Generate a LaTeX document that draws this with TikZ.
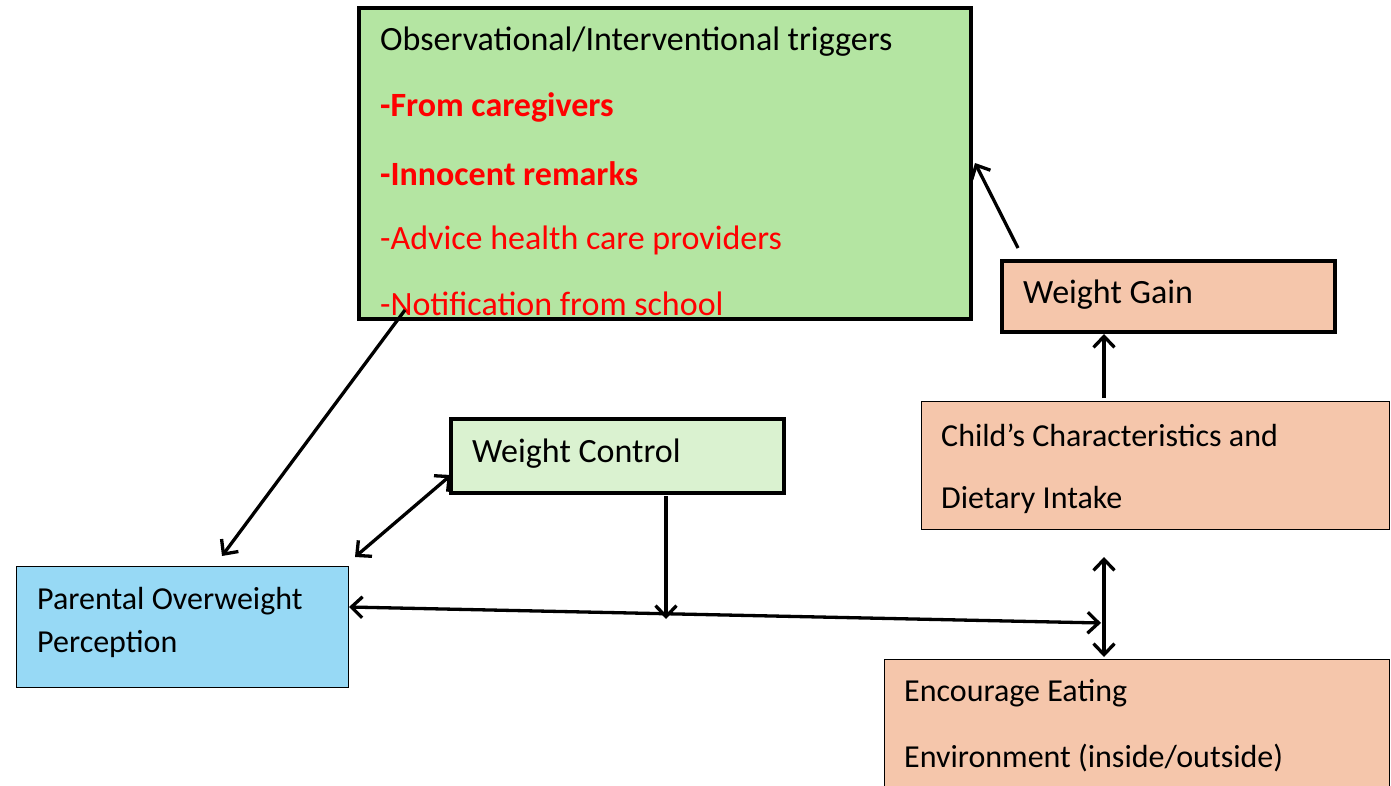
\documentclass[tikz,border=0pt]{standalone}
\usepackage{fontspec}
\setmainfont{Carlito}
\usetikzlibrary{arrows.meta}
\definecolor{gtrig}{HTML}{B4E5A2}
\definecolor{gctrl}{HTML}{DAF2D0}
\definecolor{peach}{HTML}{F5C6AB}
\definecolor{sky}{HTML}{97D9F5}
\definecolor{red1}{HTML}{FF0000}
\tikzset{
  thickbox/.style={draw=black, line width=3.2pt, inner sep=0pt},
  thinbox/.style={draw=black, line width=1pt, inner sep=0pt},
  lbl/.style={anchor=west, inner sep=0pt, font=\fontsize{32}{36}\selectfont},
  big/.style={font=\fontsize{34}{38}\selectfont},
  bigb/.style={font=\fontsize{34}{38}\selectfont\bfseries},
  conn/.style={line width=3.3pt, -{Straight Barb[length=11pt, width=21pt, line width=3.3pt]}},
  dconn/.style={line width=3.3pt, {Straight Barb[length=11pt, width=21pt, line width=3.3pt]}-{Straight Barb[length=11pt, width=21pt, line width=3.3pt]}}
}
\begin{document}
\begin{tikzpicture}[x=1pt,y=-1pt]
\useasboundingbox (0,0) rectangle (1391,786);
% boxes
\node[thickbox, fill=gtrig, minimum width=612pt, minimum height=311pt] (trig) at (665,163.5) {};
\node[thickbox, fill=peach, minimum width=333pt, minimum height=71pt] (gain) at (1168.5,296.5) {};
\node[thinbox, fill=peach, minimum width=468pt, minimum height=128pt] (child) at (1155,465) {};
\node[thinbox, fill=peach, minimum width=505pt, minimum height=140pt] (env) at (1136.5,729) {};
\node[thickbox, fill=gctrl, minimum width=333pt, minimum height=74pt] (ctrl) at (617.5,456) {};
\node[thinbox, fill=sky, minimum width=332pt, minimum height=121pt] (par) at (182,626.5) {};
% texts
\node[lbl, big] (t1) at (380,42) {Observational/Interventional triggers};
\node[lbl, text=red1, bigb] (t2) at (380,107) {-From caregivers};
\node[lbl, text=red1, bigb] (t3) at (380,174) {-Innocent remarks};
\node[lbl, text=red1, big] (t4) at (380,240) {-Advice health care providers};
\node[lbl, text=red1, big] (t5) at (380,304) {-Notification from school};
\node[lbl, big] (tg) at (1023,295) {Weight Gain};
\node[lbl] (tc1) at (941,435) {Child’s Characteristics and};
\node[lbl] (tc2) at (941,500) {Dietary Intake};
\node[lbl] (te1) at (904,693) {Encourage Eating};
\node[lbl] (te2) at (904,758) {Environment (inside/outside)};
\node[lbl, big] (tw) at (472,454) {Weight Control};
\node[lbl] (tp1) at (37,601) {Parental Overweight};
\node[lbl] (tp2) at (37,644) {Perception};
% connector ends
\coordinate (a1s) at (405,310);
\coordinate (a1e) at (222,556);
\coordinate (a2s) at (355,557);
\coordinate (a2e) at (451,475);
\coordinate (a3s) at (666,496);
\coordinate (a3e) at (666,619);
\coordinate (a4s) at (349,607);
\coordinate (a4e) at (1101,623);
\coordinate (a5s) at (1104,557);
\coordinate (a5e) at (1104,657);
\coordinate (a6s) at (1104,398);
\coordinate (a6e) at (1104,334);
\coordinate (a7s) at (1018,248);
\coordinate (a7e) at (975,163);
\draw[conn] (a1s) -- (a1e);
\draw[dconn] (a2s) -- (a2e);
\draw[conn] (a3s) -- (a3e);
\draw[dconn] (a4s) -- (a4e);
\draw[dconn] (a5s) -- (a5e);
\draw[conn] (a6s) -- (a6e);
\draw[conn] (a7s) -- (a7e);
\end{tikzpicture}
\end{document}
